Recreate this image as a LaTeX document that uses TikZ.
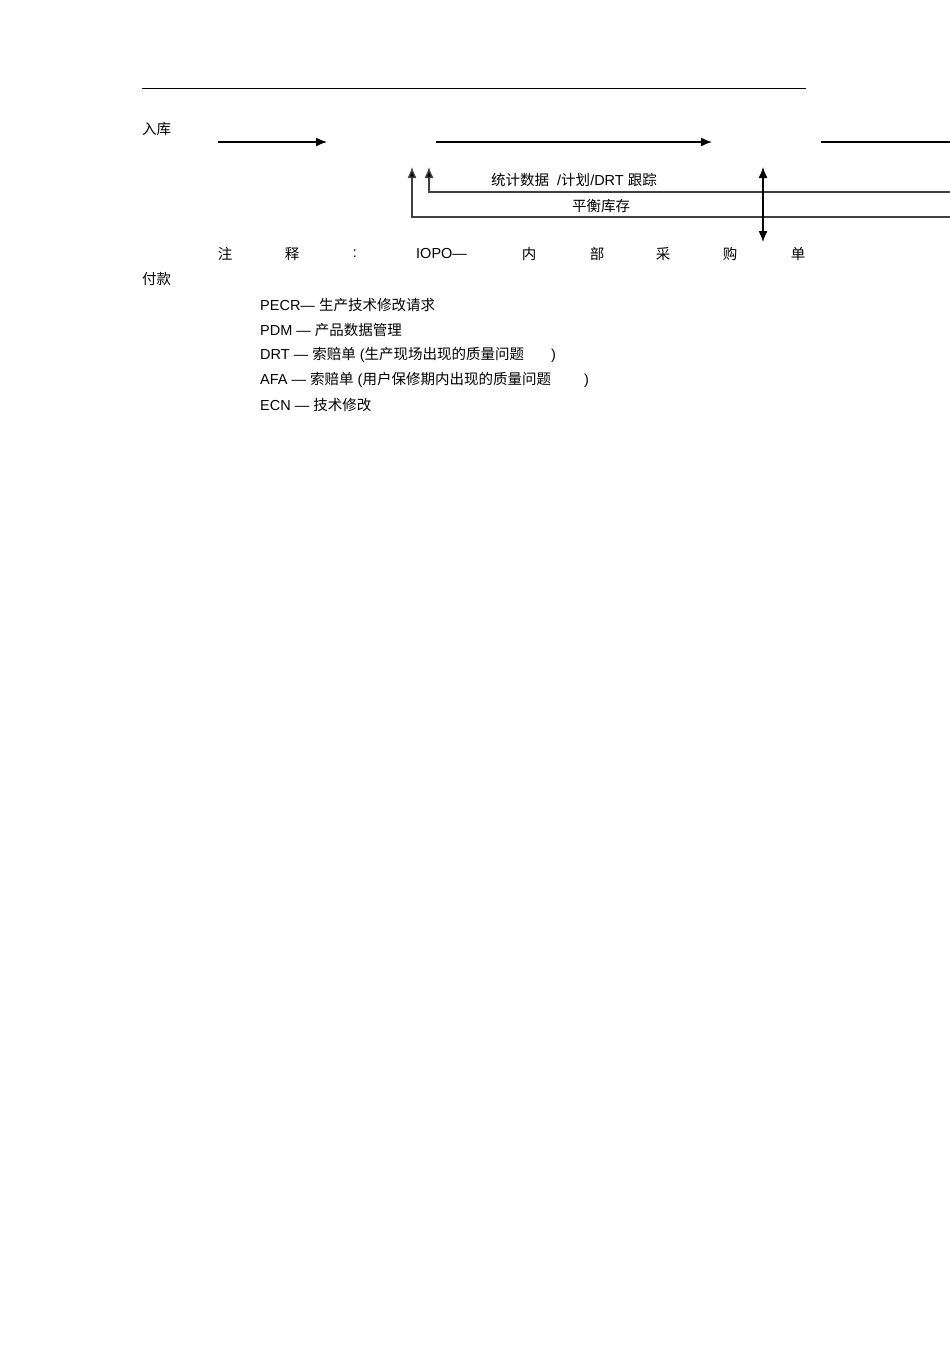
\documentclass[tikz,border=0pt]{standalone}
\usepackage{fontspec}
\setmainfont{Liberation Sans}
\newfontfamily\zh{Noto Sans CJK SC}
\usetikzlibrary{arrows.meta}
\usetikzlibrary{positioning}
\tikzset{txt/.style = {inner sep = 0, font = \fontsize{14.5}{16}\selectfont}}
\tikzset{flow/.style = {line width = 1.4, -{Latex[length=11pt, width=9pt]}}}
\tikzset{back/.style = {line width = 1.3, draw = black!75, -{Latex[length=11pt, width=9pt, fill=black]}}}

\begin{document}
\begin{tikzpicture}[x=1pt, y=-1pt]
    \useasboundingbox (0,0) rectangle (950,1345);
    \coordinate (ruleL) at (142,88);
    \coordinate (ruleR) at (806,88);
    \draw [line width = 0.9] (ruleL) -- (ruleR);
    \node [txt, anchor = west] (ruku) at (142,129) {\zh 入库};
    % main flow
    \coordinate (f1s) at (218,142);
    \coordinate (f1e) at (327,142);
    \coordinate (f2s) at (436,142);
    \coordinate (f2e) at (712,142);
    \coordinate (f3s) at (821,142);
    \coordinate (f3e) at (950,142);
    \draw [flow] (f1s) -- (f1e);
    \draw [flow] (f2s) -- (f2e);
    \draw [line width = 1.4] (f3s) -- (f3e);
    % feedback lines
    \coordinate (b1r) at (950,217);
    \coordinate (b1) at (412,217);
    \coordinate (b1t) at (412,167);
    \coordinate (b2r) at (950,192);
    \coordinate (b2) at (429,192);
    \coordinate (b2t) at (429,167);
    \draw [back] (b1r) -- (b1) -- (b1t);
    \draw [back] (b2r) -- (b2) -- (b2t);
    \node [txt] (tongji) at (574,180) {{\zh 统计数据}\ \ /{\zh 计划}/DRT {\zh 跟踪}};
    \node [txt] (pingheng) at (601,206) {\zh 平衡库存};
    \coordinate (d1) at (763,167);
    \coordinate (d2) at (763,242);
    \draw [line width = 1.3, {Latex[length=11pt, width=9pt]}-{Latex[length=11pt, width=9pt]}] (d1) -- (d2);
    % notes
    \foreach \x/\t in {225/注, 292/释, 529/内, 597/部, 663/采, 730/购, 798/单} {
      \node [txt] (zs\x) at (\x,254) {\zh \t};
    }
    \node [txt] (colon) at (355,254) {:};
    \node [txt, anchor = west] (iopo) at (416,254) {IOPO—};
    \node [txt, anchor = west] (fukuan) at (142,279) {\zh 付款};
    \foreach \y/\t in {305/{PECR— {\zh 生产技术修改请求}},
                       330/{PDM — {\zh 产品数据管理}},
                       355/{DRT — {\zh 索赔单} ({\zh 生产现场出现的质量问题}\hspace{27pt})},
                       380/{AFA — {\zh 索赔单} ({\zh 用户保修期内出现的质量问题}\hspace{33pt})},
                       405/{ECN — {\zh 技术修改}}} {
      \node [txt, anchor = west] (item\y) at (260,\y) {\t};
    }
\end{tikzpicture}
\end{document}
